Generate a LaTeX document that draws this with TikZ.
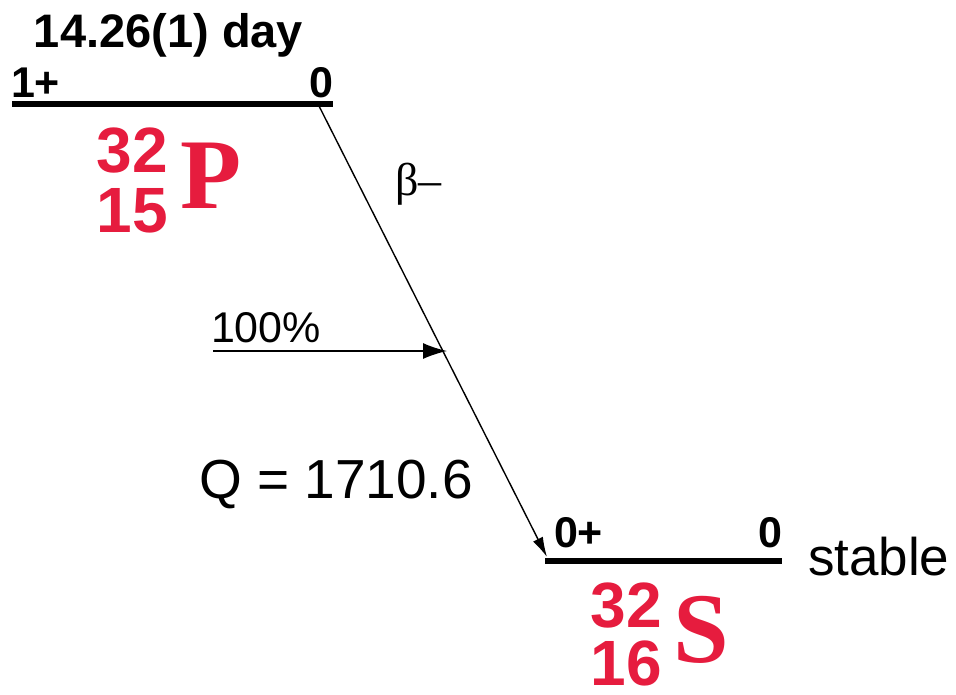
\documentclass[tikz,border=0pt]{standalone}
\usepackage{fontspec}
\setmainfont{Liberation Sans}
\newfontfamily\nucserif{Liberation Serif}
\usetikzlibrary{arrows.meta}
\definecolor{nucred}{RGB}{230,28,62}
\tikzset{
  lbl/.style={inner sep=0pt, outer sep=0pt, text=black},
  spinlbl/.style={lbl, font=\fontsize{43}{48}\selectfont\bfseries},
  massnum/.style={lbl, text=nucred, font=\fontsize{64}{70}\selectfont\bfseries, anchor=base east},
  elem/.style={lbl, text=nucred, font=\fontsize{100}{110}\selectfont\nucserif\bfseries, anchor=base west},
  level/.style={line width=6pt, black},
  thin/.style={line width=1.4pt, black},
}
\begin{document}
\begin{tikzpicture}[x=1pt,y=-1pt]
\useasboundingbox (0,0) rectangle (956,694);
% upper level (32P)
\node[lbl, anchor=base west, font=\fontsize{47}{54}\selectfont\bfseries] (half) at (34,47) {14.26(1) day};
\node[spinlbl, anchor=base west] (spinP) at (11,97) {1+};
\node[spinlbl, anchor=base east] (enP) at (333,97) {0};
\coordinate (Pleft) at (12,104);
\coordinate (Pright) at (333,104);
\draw[level] (Pleft) -- (Pright);
\node[massnum] (AP) at (168,172) {32};
\node[massnum] (ZP) at (168,232) {15};
\node[elem] (symP) at (180,208) {P};
% lower level (32S)
\node[spinlbl, anchor=base west] (spinS) at (554,547) {0+};
\node[spinlbl, anchor=base east] (enS) at (782,547) {0};
\coordinate (Sleft) at (545,561);
\coordinate (Sright) at (782,561);
\draw[level] (Sleft) -- (Sright);
\node[lbl, anchor=base west, font=\fontsize{53}{60}\selectfont] (stab) at (808,575) {stable};
\node[massnum] (AS) at (662,627) {32};
\node[massnum] (ZS) at (662,685) {16};
\node[elem] (symS) at (673,662) {S};
% decay
\coordinate (dstart) at (318,104);
\coordinate (dend) at (547,557);
\draw[thin, -{Latex[length=20pt,width=11pt]}] (dstart) -- (dend);
\node[lbl, anchor=base west, font=\fontsize{46}{52}\selectfont\nucserif] (beta) at (395,195) {β–};
\node[lbl, anchor=base west, font=\fontsize{43}{48}\selectfont] (pct) at (211,342) {100\%};
\coordinate (bfrom) at (213,351);
\coordinate (bto) at (447,351);
\draw[thin, -{Latex[length=24pt,width=16pt]}] (bfrom) -- (bto);
\node[lbl, anchor=base west, font=\fontsize{55}{60}\selectfont] (Q) at (199,498) {Q = 1710.6};
\end{tikzpicture}
\end{document}
